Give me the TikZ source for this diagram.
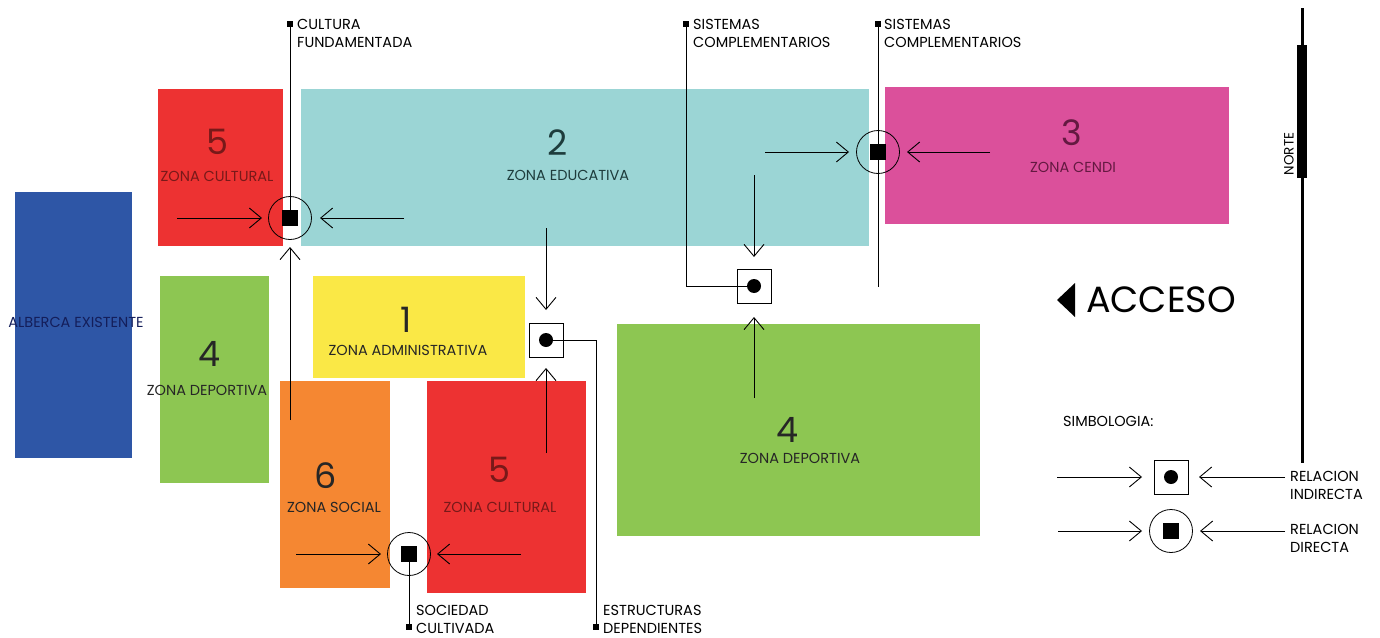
\documentclass[tikz,border=0pt]{standalone}
\usepackage{fontspec}
\setmainfont{Poppins}
\usetikzlibrary{arrows.meta}
\definecolor{cblue}{RGB}{46,86,166}
\definecolor{cred}{RGB}{237,50,50}
\definecolor{cteal}{RGB}{155,213,213}
\definecolor{cmag}{RGB}{219,80,155}
\definecolor{cgreen}{RGB}{141,198,82}
\definecolor{cyellow}{RGB}{250,232,70}
\definecolor{corange}{RGB}{245,135,50}
\definecolor{tred}{RGB}{120,25,25}
\definecolor{tteal}{RGB}{30,60,60}
\definecolor{tmag}{RGB}{100,25,65}
\definecolor{tblue}{RGB}{20,30,90}
\begin{document}
\begin{tikzpicture}[x=1pt,y=-1pt,
  zone/.style={rectangle,inner sep=0pt,draw=none},
  num/.style={font=\fontsize{35}{35}\selectfont,inner sep=0pt},
  lbl/.style={font=\fontsize{14.5}{14.5}\selectfont,inner sep=0pt},
  tag/.style={font=\fontsize{14.5}{18}\selectfont,align=left,anchor=west,inner sep=0pt},
  arr/.style={-{Straight Barb[length=12pt,width=20pt,line width=0.9pt]},line width=0.9pt},
  ln/.style={line width=0.9pt},
  direct/.style={circle,draw,line width=0.8pt,minimum size=43pt,inner sep=0pt},
  indirect/.style={rectangle,draw,line width=0.9pt,minimum size=34pt,inner sep=0pt},
  dsq/.style={rectangle,fill,minimum size=16pt,inner sep=0pt},
  idot/.style={circle,fill,minimum size=14pt,inner sep=0pt},
  marker/.style={rectangle,fill,minimum size=6pt,inner sep=0pt}]
\useasboundingbox (0,0) rectangle (1380,637);
% zones
\node[zone,fill=cblue,minimum width=117pt,minimum height=266pt] (alb) at (73.5,325) {};
\node[zone,fill=cred,minimum width=125pt,minimum height=157pt] (z5a) at (220.5,167.5) {};
\node[zone,fill=cteal,minimum width=568pt,minimum height=157pt] (z2) at (585,167.5) {};
\node[zone,fill=cmag,minimum width=344pt,minimum height=137pt] (z3) at (1057,155.5) {};
\node[zone,fill=cgreen,minimum width=109pt,minimum height=207pt] (z4a) at (214.5,379.5) {};
\node[zone,fill=cyellow,minimum width=212pt,minimum height=102pt] (z1) at (419,327) {};
\node[zone,fill=corange,minimum width=110pt,minimum height=207pt] (z6) at (335,484.5) {};
\node[zone,fill=cred,minimum width=159pt,minimum height=212pt] (z5b) at (506.5,487) {};
\node[zone,fill=cgreen,minimum width=363pt,minimum height=212pt] (z4b) at (798.5,430) {};
% zone labels
\node[lbl,text=tblue] (talb) at (76,322) {ALBERCA EXISTENTE};
\node[num,text=tred] (n5a) at (217,142) {5};
\node[lbl,text=tred] (t5a) at (217,176) {ZONA CULTURAL};
\node[num,text=tteal] (n2) at (558,143) {2};
\node[lbl,text=tteal] (t2) at (568,175) {ZONA EDUCATIVA};
\node[num,text=tmag] (n3) at (1072,133) {3};
\node[lbl,text=tmag] (t3) at (1073,167) {ZONA CENDI};
\node[num,text=black!85] (n4a) at (210,354) {4};
\node[lbl,text=black!85] (t4a) at (207,390) {ZONA DEPORTIVA};
\node[num,text=black!85] (n1) at (406,320) {1};
\node[lbl,text=black!85] (t1) at (408,350) {ZONA ADMINISTRATIVA};
\node[num,text=black!85] (n6) at (326,476) {6};
\node[lbl,text=black!85] (t6) at (334,507) {ZONA SOCIAL};
\node[num,text=tred] (n5b) at (499,470) {5};
\node[lbl,text=tred] (t5b) at (500,507) {ZONA CULTURAL};
\node[num,text=black!85] (n4b) at (787,430) {4};
\node[lbl,text=black!85] (t4b) at (800,458) {ZONA DEPORTIVA};
% relation symbols
\node[direct] (dA) at (290,218) {};
\node[dsq] (sA) at (290,218) {};
\node[direct] (dB) at (878,152) {};
\node[dsq] (sB) at (878,152) {};
\node[direct] (dC) at (409,554) {};
\node[dsq] (sC) at (409,554) {};
\node[indirect] (iA) at (546,340) {};
\node[idot] (oA) at (546,340) {};
\node[indirect] (iB) at (754,286) {};
\node[idot] (oB) at (754,286) {};
% labelled lines
\node[marker] (mCF) at (290,24) {};
\node[tag] (lCF) at (297,33.5) {CULTURA\\FUNDAMENTADA};
\draw[ln] (mCF.center) -- (sA.center);
\node[marker] (mSC1) at (686,24) {};
\node[tag] (lSC1) at (693,33.5) {SISTEMAS\\COMPLEMENTARIOS};
\draw[ln] (oB.center) -| (mSC1.center);
\node[marker] (mSC2) at (878,24) {};
\node[tag] (lSC2) at (884,33.5) {SISTEMAS\\COMPLEMENTARIOS};
\coordinate (eB) at (878,287);
\draw[ln] (mSC2.center) -- (eB);
\node[marker] (mSO) at (409,627) {};
\node[tag] (lSO) at (416,619) {SOCIEDAD\\CULTIVADA};
\draw[ln] (sC.center) -- (mSO.center);
\node[marker] (mED) at (596,627) {};
\node[tag] (lED) at (603,619) {ESTRUCTURAS\\DEPENDIENTES};
\draw[ln] (oA.center) -| (mED.center);
% arrows
\coordinate (a1s) at (177,218); \coordinate (a1e) at (262,218);
\coordinate (a2s) at (404,218); \coordinate (a2e) at (320,218);
\coordinate (a3s) at (290,420); \coordinate (a3e) at (290,247);
\coordinate (b1s) at (765,152); \coordinate (b1e) at (849,152);
\coordinate (b2s) at (990,152); \coordinate (b2e) at (907,152);
\coordinate (c1s) at (296,554); \coordinate (c1e) at (381,554);
\coordinate (c2s) at (521,554); \coordinate (c2e) at (437,554);
\coordinate (e1s) at (546,228); \coordinate (e1e) at (546,310);
\coordinate (e2s) at (546,453); \coordinate (e2e) at (546,368);
\coordinate (f1s) at (754,175); \coordinate (f1e) at (754,257);
\coordinate (f2s) at (754,398); \coordinate (f2e) at (754,317);
\foreach \p in {a1,a2,a3,b1,b2,c1,c2,e1,e2,f1,f2}{\draw[arr] (\p s) -- (\p e);}
% north
\coordinate (nt) at (1302,8); \coordinate (nb) at (1302,463);
\coordinate (nt2) at (1302,45); \coordinate (nb2) at (1302,178);
\draw[line width=3pt] (nt) -- (nb);
\draw[line width=10pt] (nt2) -- (nb2);
\node[font=\fontsize{13.5}{13.5}\selectfont,rotate=90,inner sep=0pt] (norte) at (1289,154) {NORTE};
% acceso
\fill (1075,283) -- (1057,300) -- (1075,317) -- cycle;
\node[font=\fontsize{36.5}{36.5}\selectfont,anchor=west,inner sep=0pt] (acc) at (1086,300) {ACCESO};
% legend
\node[tag] (simb) at (1063,421) {SIMBOLOGIA:};
\node[indirect] (li) at (1171,477) {};
\node[idot] (lio) at (1171,477) {};
\node[direct] (ld) at (1171,531) {};
\node[dsq] (lds) at (1171,531) {};
\coordinate (g1s) at (1057,477); \coordinate (g1e) at (1142,477);
\coordinate (g2s) at (1285,477); \coordinate (g2e) at (1199,477);
\coordinate (h1s) at (1058,531); \coordinate (h1e) at (1142,531);
\coordinate (h2s) at (1285,531); \coordinate (h2e) at (1200,531);
\foreach \p in {g1,g2,h1,h2}{\draw[arr] (\p s) -- (\p e);}
\node[tag] (lri) at (1290,485) {RELACION\\INDIRECTA};
\node[tag] (lrd) at (1290,538) {RELACION\\DIRECTA};
\end{tikzpicture}
\end{document}
